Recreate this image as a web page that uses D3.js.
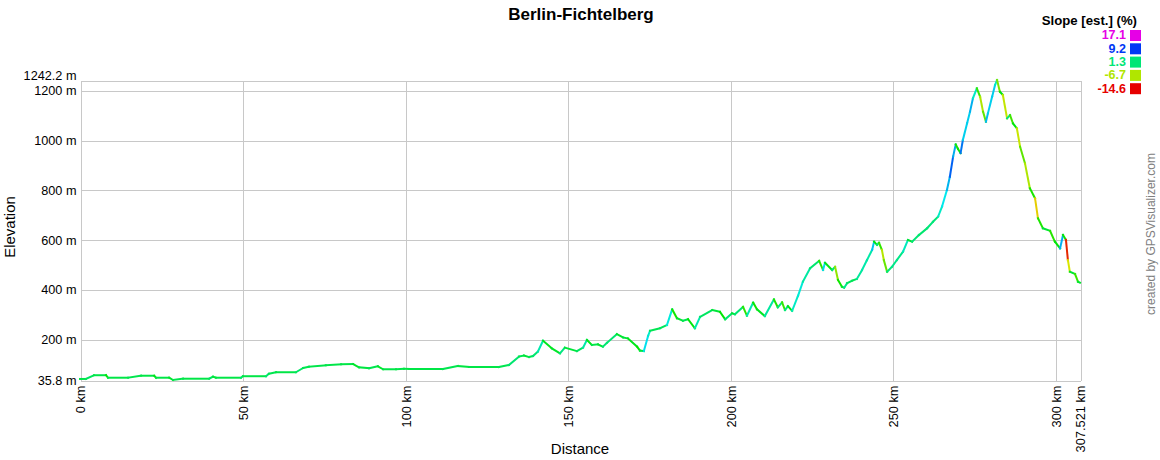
<!DOCTYPE html>
<html>
<head>
<meta charset="utf-8">
<script src="https://cdn.jsdelivr.net/npm/d3@7"></script>
<style>
  body { margin: 0; background: #fff; }
  svg { display: block; font-family: "Liberation Sans", Arial, sans-serif; }
</style>
</head>
<body>
<div id="chart"></div>
<script>
// profile samples: distance (km) and elevation (m)
const distanceKm = [
  0, 1.8, 4.3, 8.0, 8.6, 14.8, 18.8, 22.8, 23.4, 27.4, 28.6, 31.7, 39.7, 40.9, 41.8, 49.5,
  50.1, 57.2, 58.1, 60.3, 66.4, 68.6, 70.4, 75.6, 80.3, 84.0, 85.8, 88.9, 91.6, 93.2, 97.2,
  99.6, 101.2, 111.6, 116.2, 119.6, 128.8, 131.9, 135.0, 136.5, 138.1, 139.3, 140.8, 142.4,
  145.1, 147.6, 149.1, 152.8, 154.7, 155.9, 157.4, 159.3, 160.8, 162.1, 165.1, 167.0, 168.5,
  171.3, 172.2, 173.4, 174.7, 175.3, 178.4, 180.5, 182.1, 183.6, 185.4, 187.0, 189.1, 190.7,
  194.4, 196.8, 198.4, 200.5, 201.4, 203.9, 205.1, 207.0, 208.2, 210.6, 213.4, 214.6, 215.9,
  216.8, 217.7, 219.0, 220.8, 222.3, 224.5, 227.3, 228.5, 229.1, 231.3, 232.2, 233.1, 234.3,
  235.0, 235.9, 237.4, 238.9, 240.5, 242.0, 243.6, 244.2, 245.1, 245.7, 246.6, 247.2, 248.2,
  249.7, 251.2, 253.1, 254.6, 255.9, 258.0, 260.5, 262.3, 263.9, 265.1, 266.6, 267.5, 268.5,
  269.3, 270.0, 270.8, 271.5, 272.8, 273.7, 274.6, 275.8, 276.8, 277.7, 278.6, 279.2, 280.5,
  281.4, 282.0, 282.9, 283.8, 285.1, 286.0, 286.9, 288.1, 289.1, 290.6, 292.1, 293.7, 294.6,
  296.1, 298.3, 299.8, 301.4, 302.3, 303.2, 303.8, 304.4, 306.0, 306.9, 307.521
];
const elevationM = [
  40, 40, 55, 55, 45, 45, 53, 53, 45, 45, 35.8, 41, 41, 49, 45, 45,
  51, 51, 61, 67, 67, 84, 89, 95, 99, 100, 87, 83, 91, 79, 79,
  81, 80, 80, 92, 88, 88, 96, 130, 134, 128, 132, 150, 194,
  163, 143, 166, 152, 166, 197, 177, 179, 170, 186, 220, 207, 203,
  170, 154, 152, 213, 234, 244, 257, 320, 284, 274, 280, 244, 290,
  317, 310, 280, 304, 300, 330, 294, 347, 320, 293, 360, 328, 348,
  317, 333, 314, 374, 431, 485, 515, 478, 507, 478, 491, 438, 411,
  407, 425, 435, 442, 478, 518, 559, 592, 579, 588, 559, 518, 471,
  491, 518, 552, 599, 592, 619, 646, 672, 693, 733, 800, 853, 934,
  983, 965, 948, 1001, 1068, 1115, 1169, 1209, 1175, 1115, 1074, 1108, 1175,
  1222, 1242.2, 1195, 1182, 1088, 1101, 1068, 1048, 974, 907, 807, 766, 686,
  646, 636, 592, 565, 619, 599, 518, 471, 462, 431, 427
];

// axis ticks
const xTicks = [0, 50, 100, 150, 200, 250, 300, 307.521];
const yTicks = [35.8, 200, 400, 600, 800, 1000, 1200, 1242.2];

// slope legend
const legendSlopes = [17.1, 9.2, 1.3, -6.7, -14.6];
const legendColors = ["#e600e6", "#0038f5", "#00e676", "#b0e600", "#e60000"];

const W = 1160, H = 460;
const mLeft = 80, mTop = 80, plotW = 1000, plotH = 300;

const svg = d3.select("#chart").append("svg")
  .attr("width", W)
  .attr("height", H);

const x = d3.scaleLinear().domain([0, 307.521]).range([mLeft, mLeft + plotW]);
const y = d3.scaleLinear().domain([35.8, 1242.2]).range([mTop + plotH, mTop]);

const slopeColor = d3.scaleLinear()
  .domain(legendSlopes)
  .range(legendColors)
  .interpolate(d3.interpolateHsl)
  .clamp(true);

// grid + y labels
const yAxis = svg.append("g")
  .attr("transform", `translate(${mLeft + 0.5},0.5)`)
  .call(d3.axisLeft(y).tickValues(yTicks).tickSize(-plotW).tickPadding(4)
    .tickFormat(d => d + " m"));
yAxis.select(".domain").remove();
yAxis.selectAll("line").attr("stroke", "#c8c8c8").attr("shape-rendering", "crispEdges");
yAxis.selectAll("text")
  .style("font-size", "12.7px")
  .attr("fill", "#000")
  .attr("dy", d => d === 1242.2 ? "-0.05em" : "0.3em");

// grid + x labels
const xAxis = svg.append("g")
  .attr("transform", `translate(0.5,${mTop + plotH + 0.5})`)
  .call(d3.axisBottom(x).tickValues(xTicks).tickSize(-plotH)
    .tickFormat(d => d + " km"));
xAxis.select(".domain").remove();
xAxis.selectAll("line").attr("stroke", "#c8c8c8").attr("shape-rendering", "crispEdges");
xAxis.selectAll("text")
  .style("font-size", "12.8px")
  .attr("fill", "#000")
  .attr("transform", "rotate(-90)")
  .attr("x", -5)
  .attr("y", 0)
  .attr("dy", "0.35em")
  .style("text-anchor", "end");

// elevation profile, each step coloured by its slope
const segments = d3.pairs(d3.zip(distanceKm, elevationM));
svg.append("g")
  .selectAll("line")
  .data(segments)
  .join("line")
  .attr("x1", d => x(d[0][0]))
  .attr("y1", d => y(d[0][1]))
  .attr("x2", d => x(d[1][0]))
  .attr("y2", d => y(d[1][1]))
  .attr("stroke", d => slopeColor((d[1][1] - d[0][1]) / ((d[1][0] - d[0][0]) * 10)))
  .attr("stroke-width", 2)
  .attr("stroke-linecap", "square");

// titles
svg.append("text")
  .attr("x", 581).attr("y", 20)
  .attr("text-anchor", "middle")
  .style("font-size", "17px").style("font-weight", "bold")
  .text("Berlin-Fichtelberg");

svg.append("text")
  .attr("x", mLeft + plotW / 2).attr("y", 454)
  .attr("text-anchor", "middle")
  .style("font-size", "15px")
  .text("Distance");

svg.append("text")
  .attr("transform", `translate(15,${mTop + plotH / 2 - 3}) rotate(-90)`)
  .attr("text-anchor", "middle")
  .style("font-size", "15px")
  .text("Elevation");

// legend
svg.append("text")
  .attr("x", 1137).attr("y", 25)
  .attr("text-anchor", "end")
  .style("font-size", "13.2px").style("font-weight", "bold")
  .text("Slope [est.] (%)");

const legend = svg.append("g").selectAll("g")
  .data(legendSlopes)
  .join("g")
  .attr("transform", (d, i) => `translate(0,${35 + i * 13.3})`);
legend.append("rect")
  .attr("x", 1130).attr("y", -5)
  .attr("width", 11).attr("height", 11)
  .attr("fill", (d, i) => legendColors[i]);
legend.append("text")
  .attr("x", 1126).attr("y", 0)
  .attr("dy", "0.35em")
  .attr("text-anchor", "end")
  .style("font-size", "12.5px").style("font-weight", "bold")
  .attr("fill", (d, i) => legendColors[i])
  .text(d => d);

// watermark
svg.append("text")
  .attr("transform", "translate(1155,234) rotate(-90)")
  .attr("text-anchor", "middle")
  .style("font-size", "12px")
  .attr("fill", "#808080")
  .text("created by GPSVisualizer.com");
</script>
</body>
</html>
